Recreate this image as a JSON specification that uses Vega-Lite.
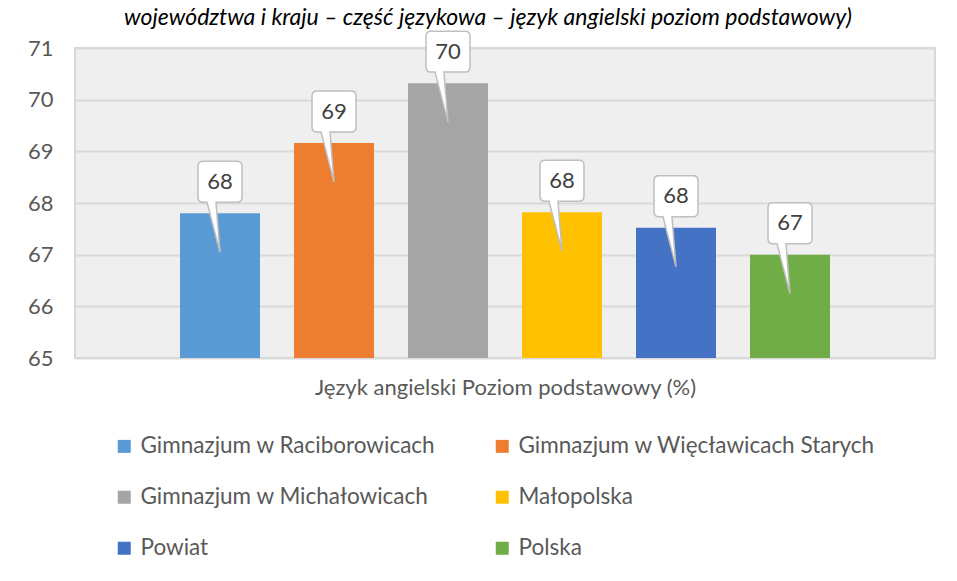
{
  "$schema": "https://vega.github.io/schema/vega-lite/v6.json",
  "width": 860,
  "height": 310,
  "autosize": {"type": "none"},
  "padding": {"left": 75, "top": 48, "right": 22, "bottom": 223},
  "background": "white",
  "title": {
    "text": "województwa i kraju – część językowa – język angielski poziom podstawowy)",
    "anchor": "end",
    "fontStyle": "italic",
    "fontWeight": "normal",
    "font": "Lato",
    "fontSize": 23,
    "color": "#000000",
    "dx": -83,
    "dy": 2,
    "offset": 0
  },
  "data": {
    "values": [
      {"kategoria": "Język angielski Poziom podstawowy (%)", "szkola": "Gimnazjum w Raciborowicach", "wynik": 67.8},
      {"kategoria": "Język angielski Poziom podstawowy (%)", "szkola": "Gimnazjum w Więcławicach Starych", "wynik": 69.16},
      {"kategoria": "Język angielski Poziom podstawowy (%)", "szkola": "Gimnazjum w Michałowicach", "wynik": 70.32},
      {"kategoria": "Język angielski Poziom podstawowy (%)", "szkola": "Małopolska", "wynik": 67.82},
      {"kategoria": "Język angielski Poziom podstawowy (%)", "szkola": "Powiat", "wynik": 67.52},
      {"kategoria": "Język angielski Poziom podstawowy (%)", "szkola": "Polska", "wynik": 67.0}
    ]
  },
  "encoding": {
    "x": {
      "field": "szkola",
      "type": "nominal",
      "sort": null,
      "scale": {"paddingInner": 0.298, "paddingOuter": 0.921},
      "axis": {
        "labels": false,
        "ticks": false,
        "domain": false,
        "title": "Język angielski Poziom podstawowy (%)",
        "titleFont": "Lato",
        "titleFontSize": 22,
        "titleFontWeight": "normal",
        "titleColor": "#595959",
        "titlePadding": 19
      }
    },
    "y": {
      "field": "wynik",
      "type": "quantitative",
      "scale": {"domain": [65, 71], "zero": false, "nice": false},
      "axis": {
        "values": [65, 66, 67, 68, 69, 70, 71],
        "title": null,
        "domain": false,
        "ticks": false,
        "tickSize": 0,
        "labelPadding": 22,
        "labelFont": "Lato",
        "labelFontSize": 22,
        "labelColor": "#595959",
        "gridColor": "#d9d9d9",
        "gridWidth": 2
      }
    }
  },
  "layer": [
    {
      "mark": {"type": "bar", "width": 80},
      "encoding": {
        "y2": {"datum": 65},
        "color": {
          "field": "szkola",
          "type": "nominal",
          "sort": null,
          "scale": {
            "domain": ["Gimnazjum w Raciborowicach", "Gimnazjum w Więcławicach Starych", "Gimnazjum w Michałowicach", "Małopolska", "Powiat", "Polska"],
            "range": ["#5b9bd5", "#ed7d31", "#a5a5a5", "#ffc000", "#4472c4", "#70ad47"]
          },
          "legend": {
            "title": null,
            "orient": "none",
            "legendX": 38,
            "legendY": 387,
            "columns": 2,
            "direction": "horizontal",
            "symbolType": "square",
            "symbolSize": 169,
            "symbolStrokeWidth": 0,
            "symbolOpacity": 1,
            "labelFont": "Lato",
            "labelFontSize": 22.5,
            "labelColor": "#595959",
            "labelOffset": 5,
            "labelLimit": 400,
            "columnPadding": 55,
            "rowPadding": 28
          }
        }
      }
    },
    {
      "mark": {
        "type": "point",
        "shape": "M-0.327,-1L0.327,-1Q0.423,-1 0.423,-0.904L0.423,-0.308Q0.423,-0.212 0.327,-0.212L-0.077,-0.212L0,0.75L-0.25,-0.212L-0.327,-0.212Q-0.423,-0.212 -0.423,-0.308L-0.423,-0.904Q-0.423,-1 -0.327,-1Z",
        "size": 10816,
        "filled": true,
        "fill": "white",
        "stroke": "#bfbfbf",
        "strokeWidth": 1.5,
        "opacity": 1
      }
    },
    {
      "mark": {
        "type": "text",
        "dy": -31.5,
        "baseline": "middle",
        "align": "center",
        "font": "Lato",
        "fontSize": 22,
        "color": "#404040"
      },
      "encoding": {
        "text": {"field": "wynik", "type": "quantitative", "format": ".0f"}
      }
    }
  ],
  "config": {
    "view": {"stroke": "#d9d9d9", "strokeWidth": 2, "fill": "#efefef"}
  }
}
